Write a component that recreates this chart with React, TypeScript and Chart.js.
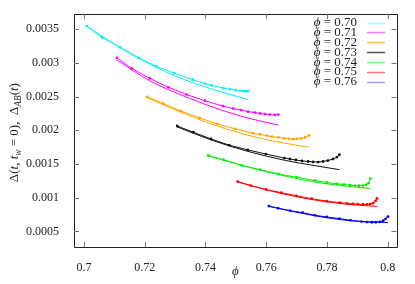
import React, { useEffect, useRef } from "react";
import { Chart, registerables } from "chart.js";

Chart.register(...registerables);

// ---- Data ----
const phiLabels = ["0.70", "0.71", "0.72", "0.73", "0.74", "0.75", "0.76"];
const curveColors = ["#00f0f0", "#ff00ff", "#ffa500", "#111111", "#00ee00", "#ff0000", "#0000ff"];
const legendColors = ["#a8ffff", "#ff70ff", "#ffbf40", "#555555", "#70ff70", "#ff7a7a", "#9d9dff"];

const xTicks = [0.7, 0.72, 0.74, 0.76, 0.78, 0.8];
const yTicks = [0.0005, 0.001, 0.0015, 0.002, 0.0025, 0.003, 0.0035];

// Δ(t, tw=0) — with points
const p70x = [0.7009, 0.7059, 0.7119, 0.7179, 0.7239, 0.7297, 0.7358, 0.7398, 0.742, 0.7459, 0.7481, 0.75, 0.7514, 0.7524, 0.7533, 0.754];
const p70y = [0.003544, 0.003376, 0.003229, 0.003074, 0.002946, 0.002847, 0.00275, 0.002691, 0.002666, 0.002626, 0.002607, 0.002593, 0.002585, 0.002578, 0.002578, 0.002578];
const p71x = [0.7108, 0.7157, 0.7217, 0.7278, 0.7338, 0.7398, 0.7458, 0.7491, 0.7517, 0.754, 0.7563, 0.758, 0.7596, 0.7612, 0.7629, 0.764];
const p71y = [0.003074, 0.002916, 0.002769, 0.002637, 0.002529, 0.002438, 0.002357, 0.002321, 0.002299, 0.002276, 0.002262, 0.00225, 0.00224, 0.002232, 0.002228, 0.002232];
const p72x = [0.7208, 0.7261, 0.7318, 0.738, 0.7439, 0.7497, 0.7556, 0.758, 0.7602, 0.7619, 0.764, 0.7659, 0.7675, 0.7688, 0.7701, 0.7715, 0.7728, 0.7741];
const p72y = [0.002494, 0.002397, 0.002288, 0.002185, 0.002093, 0.002022, 0.001956, 0.001938, 0.001921, 0.001904, 0.001894, 0.001879, 0.001872, 0.001868, 0.001872, 0.001879, 0.001894, 0.001924];
const p73x = [0.7307, 0.736, 0.7418, 0.7478, 0.7539, 0.7599, 0.766, 0.7678, 0.7698, 0.7718, 0.7738, 0.7754, 0.7771, 0.7787, 0.7803, 0.782, 0.7833, 0.7841];
const p73y = [0.002063, 0.001971, 0.001872, 0.001779, 0.00171, 0.001647, 0.001588, 0.001574, 0.001559, 0.001546, 0.001537, 0.001531, 0.001529, 0.001537, 0.001551, 0.001574, 0.001603, 0.001637];
const p74x = [0.7409, 0.7459, 0.7519, 0.758, 0.764, 0.77, 0.7761, 0.78, 0.7833, 0.7856, 0.7876, 0.7892, 0.7905, 0.7919, 0.7929, 0.7937, 0.7943];
const p74y = [0.001626, 0.001563, 0.001479, 0.001416, 0.001353, 0.001303, 0.001254, 0.001225, 0.001206, 0.001196, 0.001188, 0.001181, 0.001178, 0.001181, 0.001191, 0.001218, 0.001284];
const p75x = [0.7506, 0.7549, 0.7599, 0.765, 0.77, 0.775, 0.7799, 0.7843, 0.7866, 0.7886, 0.7902, 0.7919, 0.7932, 0.7942, 0.7952, 0.796, 0.7965];
const p75y = [0.00124, 0.001181, 0.001122, 0.001074, 0.001029, 0.000985, 0.00095, 0.000926, 0.000916, 0.000909, 0.000904, 0.000901, 0.000901, 0.000906, 0.000919, 0.000953, 0.00099];
const p76x = [0.7609, 0.764, 0.7678, 0.772, 0.7761, 0.7799, 0.7841, 0.7878, 0.7914, 0.7932, 0.7948, 0.7961, 0.7974, 0.7985, 0.7993, 0.8001];
const p76y = [0.000877, 0.000843, 0.000809, 0.000779, 0.00074, 0.000715, 0.000691, 0.000666, 0.000647, 0.00064, 0.000637, 0.000637, 0.000641, 0.000659, 0.000688, 0.000721];

// Δ_AB(t) — lines only
const l70x = [0.7009, 0.7119, 0.7239, 0.7358, 0.7448, 0.754];
const l70y = [0.003544, 0.003224, 0.002931, 0.002703, 0.002574, 0.002456];
const l71x = [0.7108, 0.7217, 0.7338, 0.7458, 0.7546, 0.764];
const l71y = [0.003041, 0.002732, 0.00249, 0.002291, 0.002174, 0.002078];
const l72x = [0.7208, 0.7318, 0.7439, 0.7556, 0.7645, 0.7741];
const l72y = [0.002482, 0.002269, 0.002063, 0.001909, 0.001821, 0.00175];
const l73x = [0.7307, 0.7418, 0.7539, 0.766, 0.7761, 0.7841];
const l73y = [0.002049, 0.001857, 0.001688, 0.001556, 0.001475, 0.001416];
const l74x = [0.7409, 0.758, 0.7761, 0.786, 0.7943];
const l74y = [0.001622, 0.001409, 0.001232, 0.001174, 0.001137];
const l75x = [0.7506, 0.765, 0.7799, 0.7892, 0.7965];
const l75y = [0.001232, 0.001063, 0.000938, 0.000894, 0.000872];
const l76x = [0.7609, 0.7761, 0.7878, 0.8001];
const l76y = [0.000872, 0.000732, 0.000659, 0.000632];

const pointX = [p70x, p71x, p72x, p73x, p74x, p75x, p76x];
const pointY = [p70y, p71y, p72y, p73y, p74y, p75y, p76y];
const lineX = [l70x, l71x, l72x, l73x, l74x, l75x, l76x];
const lineY = [l70y, l71y, l72y, l73y, l74y, l75y, l76y];

const SERIF = "'Liberation Serif', 'DejaVu Serif', serif";

type Seg = { t: string; it?: boolean; sub?: boolean };

function drawSegs(ctx: CanvasRenderingContext2D, segs: Seg[], cx: number, cy: number, size: number) {
  const fontFor = (s: Seg) => `${s.it ? "italic " : ""}${s.sub ? size * 0.72 : size}px ${SERIF}`;
  let total = 0;
  for (const s of segs) {
    ctx.font = fontFor(s);
    total += ctx.measureText(s.t).width;
  }
  let x = cx - total / 2;
  ctx.textBaseline = "middle";
  ctx.textAlign = "left";
  for (const s of segs) {
    ctx.font = fontFor(s);
    ctx.fillText(s.t, x, s.sub ? cy + size * 0.25 : cy);
    x += ctx.measureText(s.t).width;
  }
}

const decorPlugin = {
  id: "decor",
  afterDraw(chart: any) {
    const { ctx, chartArea } = chart;
    const { left, right, top, bottom } = chartArea;
    const xs = chart.scales.x;
    const ys = chart.scales.y;
    ctx.save();
    ctx.strokeStyle = "#222";
    ctx.lineWidth = 1;
    ctx.beginPath();
    ctx.rect(Math.round(left) + 0.5, Math.round(top) + 0.5, Math.round(right - left), Math.round(bottom - top));
    ctx.stroke();
    const tl = 5;
    ctx.strokeStyle = "#777";
    ctx.beginPath();
    for (const v of xTicks) {
      const px = Math.round(xs.getPixelForValue(v)) + 0.5;
      ctx.moveTo(px, bottom);
      ctx.lineTo(px, bottom - tl);
      ctx.moveTo(px, top);
      ctx.lineTo(px, top + tl);
    }
    for (const v of yTicks) {
      const py = Math.round(ys.getPixelForValue(v)) + 0.5;
      ctx.moveTo(left, py);
      ctx.lineTo(left + tl, py);
      ctx.moveTo(right, py);
      ctx.lineTo(right - tl, py);
    }
    ctx.stroke();

    // Legend
    ctx.fillStyle = "#222";
    const textRight = 357;
    for (let i = 0; i < phiLabels.length; i++) {
      const y = 22.5 + i * 9.9;
      ctx.textBaseline = "middle";
      ctx.textAlign = "right";
      ctx.font = `13px ${SERIF}`;
      const rest = " = " + phiLabels[i];
      ctx.fillText(rest, textRight, y);
      const w = ctx.measureText(rest).width;
      ctx.font = `italic 13px ${SERIF}`;
      ctx.fillText("ϕ", textRight - w, y);
      ctx.strokeStyle = legendColors[i];
      ctx.lineWidth = 1.5;
      ctx.beginPath();
      ctx.moveTo(367, Math.round(y) + 0.5);
      ctx.lineTo(385, Math.round(y) + 0.5);
      ctx.stroke();
    }

    // Axis titles
    ctx.fillStyle = "#222";
    drawSegs(ctx, [{ t: "ϕ", it: true }], (left + right) / 2, 272, 13);
    ctx.save();
    ctx.translate(15, (top + bottom) / 2 + 2);
    ctx.rotate(-Math.PI / 2);
    drawSegs(
      ctx,
      [
        { t: "Δ(" },
        { t: "t", it: true },
        { t: ", " },
        { t: "t", it: true },
        { t: "w", it: true, sub: true },
        { t: " = 0),  Δ" },
        { t: "AB", it: true, sub: true },
        { t: "(" },
        { t: "t", it: true },
        { t: ")" },
      ],
      0,
      0,
      13
    );
    ctx.restore();
    ctx.restore();
  },
};

export default function App() {
  const ref = useRef<HTMLCanvasElement | null>(null);
  useEffect(() => {
    document.body.style.margin = "0";
    const datasets: any[] = [];
    for (let i = 0; i < phiLabels.length; i++) {
      datasets.push({
        label: "phi " + phiLabels[i],
        data: pointX[i].map((x, k) => ({ x, y: pointY[i][k] })),
        borderColor: curveColors[i],
        backgroundColor: curveColors[i],
        borderWidth: 1,
        pointRadius: 1.4,
        pointBorderWidth: 0,
        pointStyle: "circle",
        tension: 0,
      });
      datasets.push({
        label: "AB " + phiLabels[i],
        data: lineX[i].map((x, k) => ({ x, y: lineY[i][k] })),
        borderColor: curveColors[i],
        backgroundColor: curveColors[i],
        borderWidth: 1,
        pointRadius: 0,
        cubicInterpolationMode: "monotone",
      });
    }
    const chart = new Chart(ref.current as HTMLCanvasElement, {
      type: "line",
      data: { datasets },
      plugins: [decorPlugin],
      options: {
        responsive: false,
        animation: false,
        layout: { padding: { left: 0, top: 13, right: 18.5, bottom: 0 } },
        plugins: { legend: { display: false }, tooltip: { enabled: false } },
        scales: {
          x: {
            type: "linear",
            min: 0.6967,
            max: 0.8029,
            afterBuildTicks: (s: any) => {
              s.ticks = xTicks.map((v) => ({ value: v }));
            },
            afterFit: (s: any) => {
              s.height = 37;
            },
            grid: { display: false },
            border: { display: false },
            ticks: {
              color: "#222",
              padding: 6,
              maxRotation: 0,
              font: { family: SERIF, size: 12 },
              callback: (v: any) => String(Number(v)),
            },
          },
          y: {
            type: "linear",
            min: 0.00027,
            max: 0.00372,
            afterBuildTicks: (s: any) => {
              s.ticks = yTicks.map((v) => ({ value: v }));
            },
            afterFit: (s: any) => {
              s.width = 74;
            },
            grid: { display: false },
            border: { display: false },
            ticks: {
              color: "#222",
              padding: 7,
              font: { family: SERIF, size: 12 },
              callback: (v: any) => String(Number(v)),
            },
          },
        },
      },
    });
    return () => chart.destroy();
  }, []);
  return (
    <div style={{ width: 415, height: 284 }}>
      <canvas ref={ref} width={415} height={284} style={{ display: "block" }} />
    </div>
  );
}
